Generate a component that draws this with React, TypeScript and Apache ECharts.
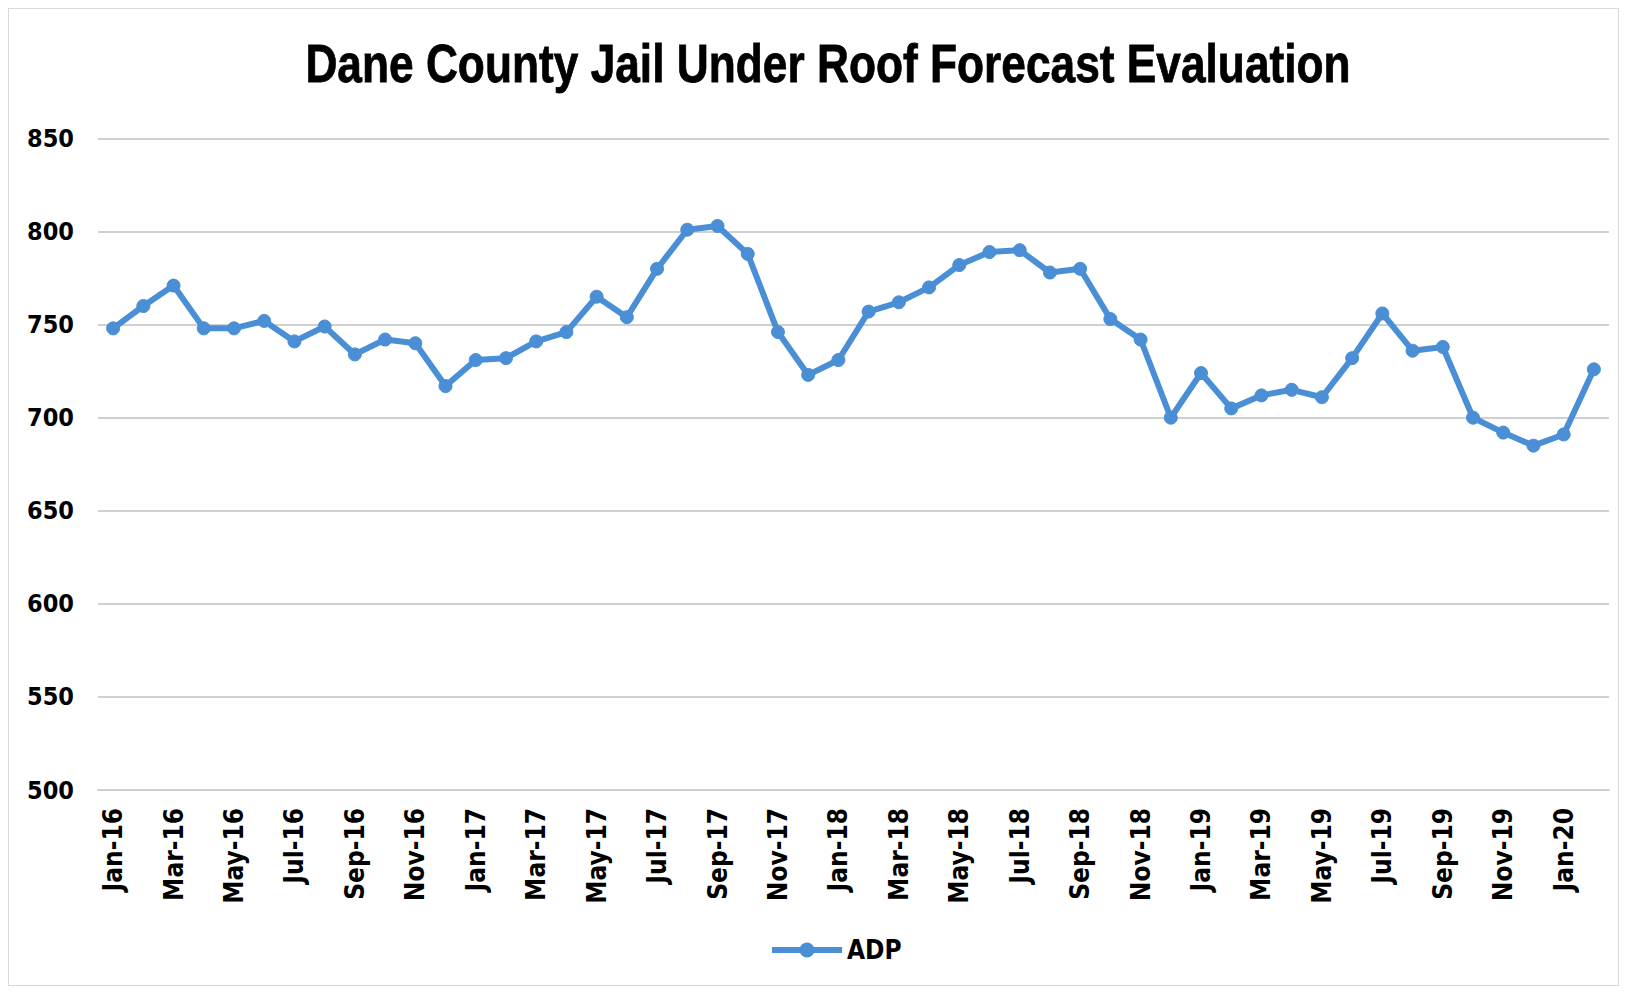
import React, { useEffect, useRef } from "react";
import * as echarts from "echarts";

const titleText = "Dane County Jail Under Roof Forecast Evaluation";
const seriesName = "ADP";

const months = [
  "Jan-16", "Feb-16", "Mar-16", "Apr-16", "May-16", "Jun-16", "Jul-16", "Aug-16", "Sep-16", "Oct-16", "Nov-16", "Dec-16",
  "Jan-17", "Feb-17", "Mar-17", "Apr-17", "May-17", "Jun-17", "Jul-17", "Aug-17", "Sep-17", "Oct-17", "Nov-17", "Dec-17",
  "Jan-18", "Feb-18", "Mar-18", "Apr-18", "May-18", "Jun-18", "Jul-18", "Aug-18", "Sep-18", "Oct-18", "Nov-18", "Dec-18",
  "Jan-19", "Feb-19", "Mar-19", "Apr-19", "May-19", "Jun-19", "Jul-19", "Aug-19", "Sep-19", "Oct-19", "Nov-19", "Dec-19",
  "Jan-20", "Feb-20",
];

const adp = [
  748, 760, 771, 748, 748, 752, 741, 749, 734, 742, 740, 717,
  731, 732, 741, 746, 765, 754, 780, 801, 803, 788, 746, 723,
  731, 757, 762, 770, 782, 789, 790, 778, 780, 753, 742, 700,
  724, 705, 712, 715, 711, 732, 756, 736, 738, 700, 692, 685,
  691, 726,
];

const yMin = 500;
const yMax = 850;
const yStep = 50;

const COND = "'DejaVu Sans Condensed', 'Liberation Sans', sans-serif";
const TITLE_FONT = "'Liberation Sans', Arial, sans-serif";
const BLUE = "#4a8fd6";

export default function App() {
  const ref = useRef<HTMLDivElement>(null);

  useEffect(() => {
    if (!ref.current) return;
    const chart = echarts.init(ref.current, undefined, { renderer: "svg" });
    chart.setOption({
      animation: false,
      backgroundColor: "#ffffff",
      graphic: [
        {
          type: "text",
          x: 819,
          y: 27,
          scaleX: 0.82,
          style: {
            text: titleText,
            fontFamily: TITLE_FONT,
            fontWeight: "bold",
            fontSize: 54,
            fill: "#000000",
            stroke: "#000000",
            lineWidth: 0.8,
            align: "center",
            verticalAlign: "top",
            textAlign: "center",
            textVerticalAlign: "top",
          },
        },
      ],
      legend: {
        data: [seriesName],
        left: 760,
        top: 928,
        padding: 0,
        itemWidth: 70,
        itemHeight: 16,
        itemGap: 2,
        lineStyle: { width: 6, color: BLUE },
        itemStyle: { color: BLUE },
        textStyle: {
          fontFamily: COND,
          fontWeight: "bold",
          fontSize: 26,
          color: "#000000",
        },
      },
      grid: {
        left: 89,
        right: 9,
        top: 129.5,
        bottom: 195,
        containLabel: false,
      },
      xAxis: {
        type: "category",
        data: months,
        boundaryGap: true,
        axisLine: { show: true, lineStyle: { color: "#cfcfcf", width: 2 } },
        axisTick: { show: false },
        axisLabel: {
          interval: 1,
          rotate: 90,
          margin: 18,
          fontFamily: COND,
          fontWeight: "bold",
          fontSize: 26,
          color: "#000000",
        },
        splitLine: { show: false },
      },
      yAxis: {
        type: "value",
        min: yMin,
        max: yMax,
        interval: yStep,
        axisLine: { show: false },
        axisTick: { show: false },
        axisLabel: {
          margin: 24,
          fontFamily: COND,
          fontWeight: "bold",
          fontSize: 25,
          color: "#000000",
        },
        splitLine: { show: true, lineStyle: { color: "#d0d0d0", width: 2 } },
      },
      series: [
        {
          name: seriesName,
          type: "line",
          data: adp,
          symbol: "circle",
          symbolSize: 13,
          showSymbol: true,
          lineStyle: { color: BLUE, width: 6 },
          itemStyle: { color: BLUE, borderColor: BLUE, borderWidth: 1 },
        },
      ],
    });
    return () => chart.dispose();
  }, []);

  return (
    <div
      ref={ref}
      style={{
        width: 1611,
        height: 978,
        boxSizing: "border-box",
        border: "1px solid #d9d9d9",
      }}
    />
  );
}
